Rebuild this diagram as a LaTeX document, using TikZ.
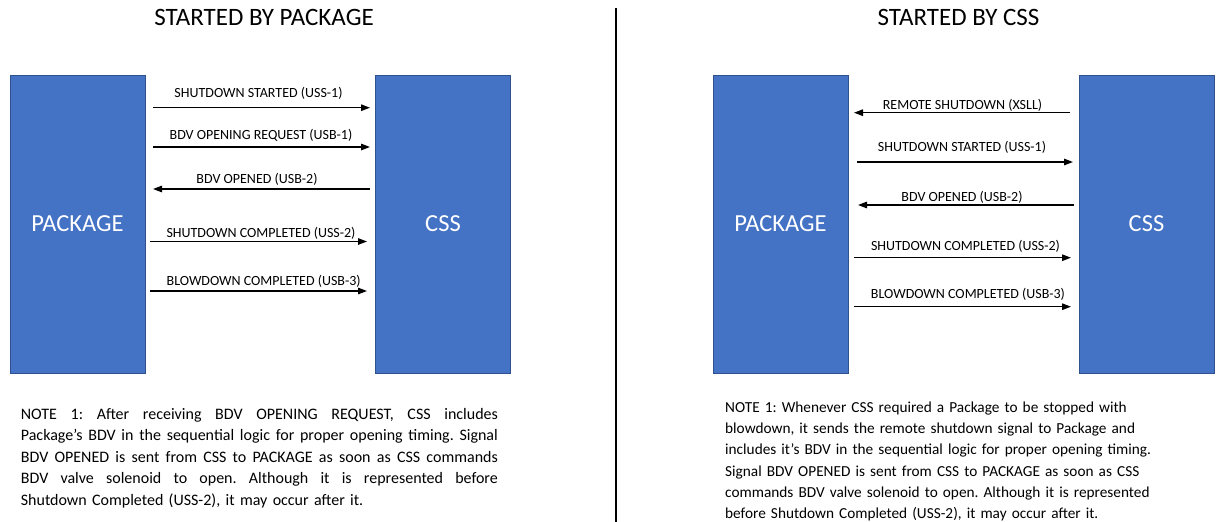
\documentclass[tikz,border=0pt]{standalone}
\usepackage{fontspec}
\setmainfont{Carlito}
\usetikzlibrary{arrows.meta}
\definecolor{boxblue}{HTML}{4472C4}
\definecolor{boxedge}{HTML}{2F528F}
% one fully justified line of the left note
\newcommand\justline[1]{\hbox to 477pt{\spaceskip=0.22em plus 1fil\relax\xspaceskip=\spaceskip #1}}
\frenchspacing
\begin{document}
\begin{tikzpicture}[x=1pt,y=-1pt,
  unit/.style={draw=boxedge, line width=0.8pt, fill=boxblue, minimum width=135pt,
    minimum height=298pt, inner sep=0pt, text=white, font=\fontsize{24.5}{28}\selectfont},
  title/.style={font=\fontsize{25}{29}\selectfont, anchor=base, inner sep=0pt},
  msg/.style={-{Triangle[length=9pt,width=6.5pt]}, line width=1.3pt},
  lbl/.style={font=\fontsize{14}{16}\selectfont, anchor=base, inner sep=0pt},
  note/.style={inner sep=0pt, anchor=base west, align=left}]
\useasboundingbox (0,0) rectangle (1216,522);

% ---- left half: sequence started by the package ----
\node[title] (tL) at (264,25.7) {STARTED BY PACKAGE};
\node[unit] (pkgL) at (77.5,224) {PACKAGE};
\node[unit] (cssL) at (443,224) {CSS};

\coordinate (l1a) at (153,107.7); \coordinate (l1b) at (370,107.7);
\coordinate (l2a) at (153,147);   \coordinate (l2b) at (370,147);
\coordinate (l3a) at (153,189);   \coordinate (l3b) at (370,189);
\coordinate (l4a) at (150,241.5); \coordinate (l4b) at (367,241.5);
\coordinate (l5a) at (150,291);   \coordinate (l5b) at (367,291);
\draw[msg] (l1a) -- (l1b);
\draw[msg] (l2a) -- (l2b);
\draw[msg] (l3b) -- (l3a);
\draw[msg] (l4a) -- (l4b);
\draw[msg] (l5a) -- (l5b);
\node[lbl] (m1) at (258.5,97)  {SHUTDOWN STARTED (USS-1)};
\node[lbl] (m2) at (261,139.5) {BDV OPENING REQUEST (USB-1)};
\node[lbl] (m3) at (257,183.5) {BDV OPENED (USB-2)};
\node[lbl] (m4) at (261,237.5) {SHUTDOWN COMPLETED (USS-2)};
\node[lbl] (m5) at (263.7,285) {BLOWDOWN COMPLETED (USB-3)};

\node[note, text width=477pt, font=\fontsize{16}{21.4}\selectfont] (nL) at (20.7,419.5)
 {\justline{NOTE 1: After receiving BDV OPENING REQUEST, CSS includes}
  \justline{Package’s BDV in the sequential logic for proper opening timing. Signal}
  \justline{BDV OPENED is sent from CSS to PACKAGE as soon as CSS commands}
  \justline{BDV valve solenoid to open. Although it is represented before}
  \hbox{Shutdown Completed (USS-2), it may occur after it.}};

% ---- divider ----
\draw[line width=1.2pt] (616,8) -- (616,522);

% ---- right half: sequence started by the CSS ----
\node[title] (tR) at (958.5,25.7) {STARTED BY CSS};
\node[unit] (pkgR) at (780.5,224) {PACKAGE};
\node[unit] (cssR) at (1146.5,224) {CSS};

\coordinate (r1a) at (854,112.7); \coordinate (r1b) at (1070,112.7);
\coordinate (r2a) at (857,162);   \coordinate (r2b) at (1073,162);
\coordinate (r3a) at (858,205);   \coordinate (r3b) at (1074,205);
\coordinate (r4a) at (854,257.7); \coordinate (r4b) at (1071,257.7);
\coordinate (r5a) at (854,306.7); \coordinate (r5b) at (1071,306.7);
\draw[msg] (r1b) -- (r1a);
\draw[msg] (r2a) -- (r2b);
\draw[msg] (r3b) -- (r3a);
\draw[msg] (r4a) -- (r4b);
\draw[msg] (r5a) -- (r5b);
\node[lbl] (n1) at (962.5,109.5) {REMOTE SHUTDOWN (XSLL)};
\node[lbl] (n2) at (962,151)     {SHUTDOWN STARTED (USS-1)};
\node[lbl] (n3) at (962,201)     {BDV OPENED (USB-2)};
\node[lbl] (n4) at (965.5,250.5) {SHUTDOWN COMPLETED (USS-2)};
\node[lbl] (n5) at (968,298.5)   {BLOWDOWN COMPLETED (USB-3)};

\node[note, text width=480pt, font=\fontsize{15.3}{21.2}\selectfont] (nR) at (725,412.5)
 {NOTE 1: Whenever CSS required a Package to be stopped with\\
  blowdown, it sends the remote shutdown signal to Package and\\
  includes it’s BDV in the sequential logic for proper opening timing.\\
  Signal BDV OPENED is sent from CSS to PACKAGE as soon as CSS\\
  commands BDV valve solenoid to open. Although it is represented\\
  before Shutdown Completed (USS-2), it may occur after it.};
\end{tikzpicture}
\end{document}
